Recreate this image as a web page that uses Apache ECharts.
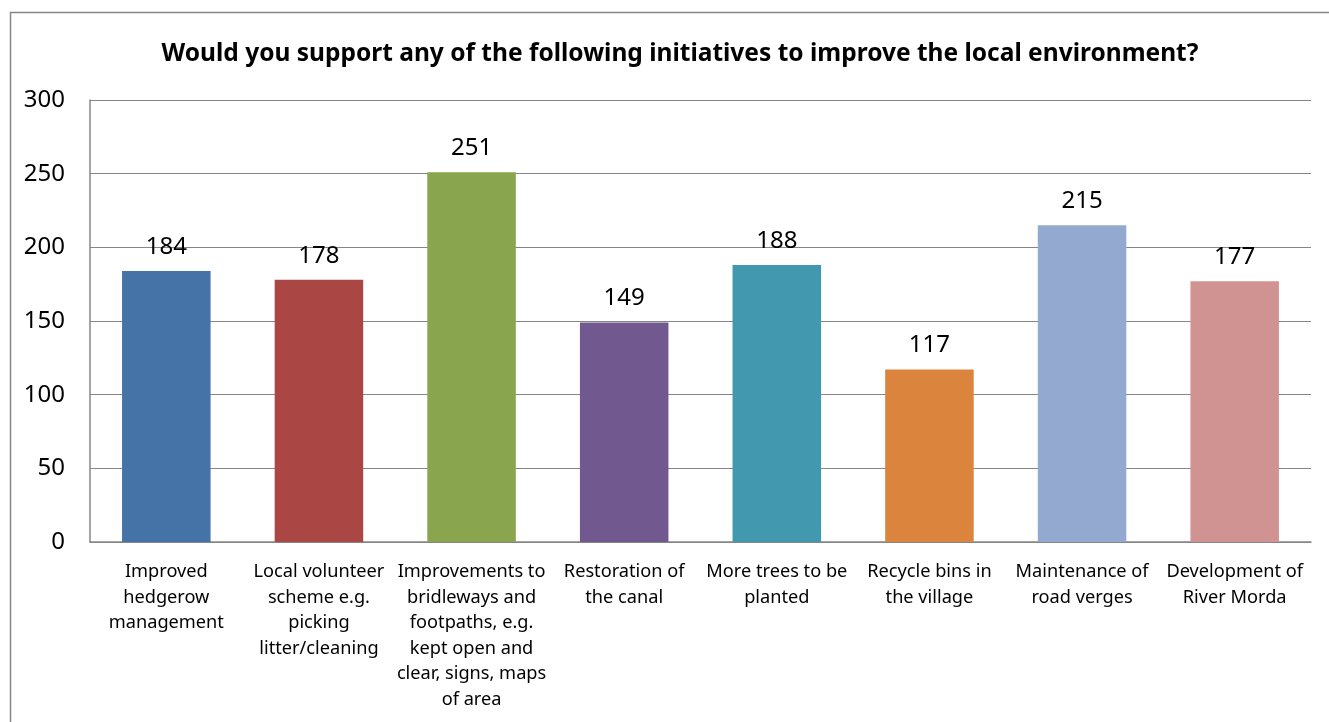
<!DOCTYPE html>
<html>
<head>
<meta charset="utf-8">
<script src="https://cdn.jsdelivr.net/npm/echarts@6/dist/echarts.min.js"></script>
<style>
html,body{margin:0;padding:0;background:#fff;}
#chart{width:1329px;height:722px;}
</style>
</head>
<body>
<div id="chart"></div>
<script>
var titleText = 'Would you support any of the following initiatives to improve the local environment?';
var categories = [
  'Improved hedgerow management',
  'Local volunteer scheme e.g. picking litter/cleaning',
  'Improvements to bridleways and footpaths, e.g. kept open and clear, signs, maps of area',
  'Restoration of the canal',
  'More trees to be planted',
  'Recycle bins in the village',
  'Maintenance of road verges',
  'Development of River Morda'
];
var categoryLabels = [
  'Improved\nhedgerow\nmanagement',
  'Local volunteer\nscheme e.g.\npicking\nlitter/cleaning',
  'Improvements to\nbridleways and\nfootpaths, e.g.\nkept open and\nclear, signs, maps\nof area',
  'Restoration of\nthe canal',
  'More trees to be\nplanted',
  'Recycle bins in\nthe village',
  'Maintenance of\nroad verges',
  'Development of\nRiver Morda'
];
var values = [184, 178, 251, 149, 188, 117, 215, 177];
var colors = ['#4572A7', '#AA4643', '#89A54E', '#71588F', '#4198AF', '#DB843D', '#93A9CF', '#D19392'];
var yTicks = [0, 50, 100, 150, 200, 250, 300];

var chart = echarts.init(document.getElementById('chart'));
var font = '"Noto Sans", "Open Sans", sans-serif';
chart.setOption({
  backgroundColor: '#fff',
  animation: false,
  title: {
    text: titleText,
    left: 675, textAlign: 'center', top: 37,
    textStyle: {fontFamily: font, fontSize: 24.5, fontWeight: 'bold', color: '#000'}
  },
  graphic: [{
    type: 'rect', left: 8, top: 10, silent: true,
    shape: {width: 1340, height: 740},
    style: {fill: 'none', stroke: '#868686', lineWidth: 1.5}
  }],
  grid: {left: 90, right: 18, top: 100, bottom: 180, containLabel: false},
  xAxis: {
    type: 'category',
    data: categories,
    axisLine: {lineStyle: {color: '#868686', width: 1.5}},
    axisTick: {show: false},
    axisLabel: {
      interval: 0, margin: 17, lineHeight: 25.6,
      fontFamily: font, fontSize: 18.2, color: '#000',
      formatter: function (v, i) { return categoryLabels[i]; }
    }
  },
  yAxis: {
    type: 'value', min: yTicks[0], max: yTicks[yTicks.length - 1], interval: 50,
    axisLine: {show: true, lineStyle: {color: '#868686', width: 1.5}},
    axisTick: {show: false},
    splitLine: {lineStyle: {color: '#868686', width: 1.2}},
    axisLabel: {margin: 25, fontFamily: font, fontSize: 24, color: '#000'}
  },
  series: [{
    type: 'bar',
    data: values.map(function (v, i) { return {value: v, itemStyle: {color: colors[i]}}; }),
    barWidth: '58%',
    label: {
      show: true, position: 'top', distance: 12,
      fontFamily: font, fontSize: 24, color: '#000'
    }
  }]
});
</script>
</body>
</html>
